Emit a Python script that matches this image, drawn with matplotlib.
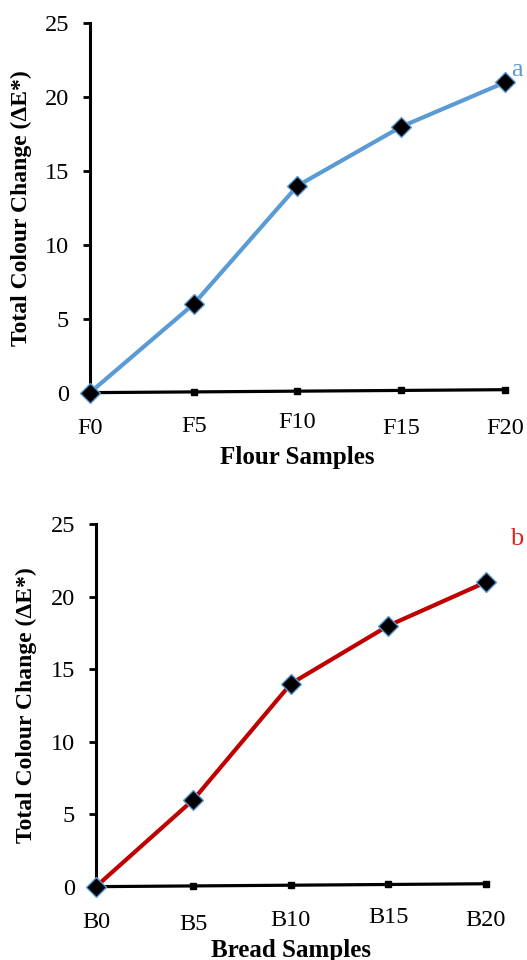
import matplotlib.pyplot as plt
import matplotlib.transforms as mtransforms

plt.rcParams['font.family'] = ['Liberation Serif', 'DejaVu Serif']

# data
flour_samples = ['F0', 'F5', 'F10', 'F15', 'F20']
bread_samples = ['B0', 'B5', 'B10', 'B15', 'B20']
flour_dE = [0, 6, 14, 18, 21]
bread_dE = [0, 6, 14, 18, 21]
baseline = [0, 0.05, 0.1, 0.15, 0.2]   # near-zero reference series drawn in black
y_ticks = [0, 5, 10, 15, 20, 25]

fig = plt.figure(figsize=(5.27, 9.6), dpi=100)

# axes boxes in figure fractions (left, bottom, width, height)
ax1 = fig.add_axes([0.1708, 0.591, 0.958 - 0.1708, 0.9757 - 0.591])
ax2 = fig.add_axes([0.182, 0.0764, 0.922 - 0.182, 0.454 - 0.0764])


def draw_panel(ax, labels, values, color, xlabel, letter, label_shift):
    x = list(range(len(labels)))
    ax.plot(x, baseline, color='black', lw=2.3, marker='s', ms=4.5,
            clip_on=False, zorder=3)
    ax.plot(x, values, color=color, lw=3, marker='D', ms=10.5,
            mfc='black', mec='#5B9BD5', mew=1.0, clip_on=False, zorder=4)

    ax.set_xlim(0, len(labels) - 1)
    ax.set_ylim(0, 25)
    ax.set_yticks(y_ticks)
    ax.set_xticks(x)
    ax.set_xticklabels(labels)

    for s in ['top', 'right', 'bottom']:
        ax.spines[s].set_visible(False)
    ax.spines['left'].set_linewidth(2.2)

    ax.tick_params(axis='y', direction='out', length=5, width=2, pad=10,
                   labelsize=17.5)
    ax.tick_params(axis='x', length=0, pad=18, labelsize=17.5)

    # the source tick labels sit at slightly uneven heights
    for lab, dy in zip(ax.get_xticklabels(), label_shift):
        off = mtransforms.ScaledTranslation(0, dy / 72, fig.dpi_scale_trans)
        lab.set_transform(lab.get_transform() + off)

    ax.set_ylabel('Total Colour Change (ΔE*)', fontsize=17, fontweight='bold')
    ax.set_xlabel(xlabel, fontsize=18, fontweight='bold')
    ax.text(letter[2], letter[3], letter[0], color=letter[1], fontsize=19,
            transform=ax.transAxes, ha='left', va='center')


draw_panel(ax1, flour_samples, flour_dE, '#5B9BD5', 'Flour Samples',
           ('a', '#5B9BD5', 1.016, 0.873), [0, 1.5, 4, 0, 0])
draw_panel(ax2, bread_samples, bread_dE, '#C00000', 'Bread Samples',
           ('b', '#E0201B', 1.062, 0.958), [0, -2, 1.5, 3, 1.5])

ax1.yaxis.set_label_coords(-0.14, 0.5)
ax1.xaxis.set_label_coords(0.5, -0.145)
ax2.yaxis.set_label_coords(-0.152, 0.5)
ax2.xaxis.set_label_coords(0.5, -0.145)

fig.savefig('out.png', dpi=100)
